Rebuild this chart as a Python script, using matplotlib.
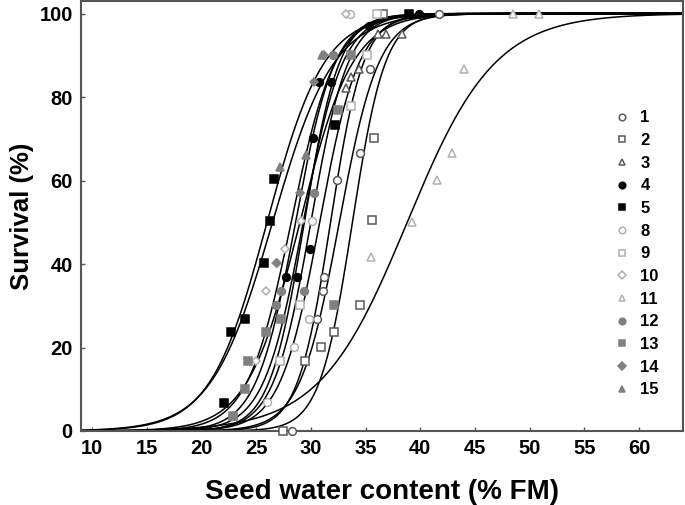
import numpy as np
import matplotlib
matplotlib.use("Agg")
import matplotlib.pyplot as plt
from matplotlib.lines import Line2D

plt.rcParams['font.family'] = ['Liberation Sans', 'DejaVu Sans']
plt.rcParams['font.weight'] = 'bold'

# ---- data ----
labels = ['1', '2', '3', '4', '5', '8', '9', '10', '11', '12', '13', '14', '15']

x1 = [28.3, 30.6, 31.1, 31.2, 32.4, 34.5, 35.4, 41.7]
y1 = [0, 26.8, 33.6, 36.9, 60.2, 66.7, 86.7, 100]
x2 = [27.5, 29.5, 30.9, 32.1, 34.5, 35.6, 35.8, 36.6]
y2 = [0, 16.8, 20.1, 23.6, 30.2, 50.6, 70.1, 100]
x3 = [33.2, 33.7, 34.4, 36.1, 36.9, 38.3]
y3 = [82.2, 84.8, 86.7, 95, 95, 95]
x4 = [27.7, 28.7, 29.9, 30.2, 30.7, 31.8, 35.3, 39.9]
y4 = [36.9, 36.9, 43.6, 70.2, 83.6, 83.6, 97, 100]
x5 = [22.1, 22.7, 24.0, 25.7, 26.3, 26.6, 32.2, 39.0]
y5 = [6.8, 23.6, 26.8, 40.2, 50.4, 60.4, 73.4, 100]
x8 = [26.0, 28.5, 29.8, 30.1, 33.6]
y8 = [7, 20.1, 26.8, 50.4, 100]
x9 = [27.2, 29.0, 33.7, 35.1, 36.0]
y9 = [16.8, 30.2, 77.8, 90, 100]
x10 = [25.0, 25.9, 26.8, 27.6, 29.1, 33.2]
y10 = [16.8, 33.6, 40.2, 43.6, 50.4, 100]
x11 = [35.5, 39.2, 41.5, 42.9, 44.0, 48.5, 50.8]
y11 = [41.7, 50.1, 60.1, 66.6, 86.7, 100, 100]
x12 = [26.8, 27.3, 29.4, 30.3, 32.0]
y12 = [30.2, 33.6, 33.6, 57.1, 90]
x13 = [22.9, 24.0, 24.3, 25.9, 27.3, 32.1, 32.5, 33.7]
y13 = [3.6, 10, 16.8, 23.6, 26.8, 30.2, 77, 90]
x14 = [26.9, 29.0, 30.3, 31.2]
y14 = [40.2, 57.1, 83.6, 90]
x15 = [22.9, 27.2, 29.6, 31.0]
y15 = [3.6, 63.2, 66.2, 90]

# fitted logistic curve parameters (x at 50 % survival, slope scale)
x50 = [32.6, 33.8, 31.8, 29.4, 26.0, 30.0, 30.8, 28.2, 38.8, 29.3, 29.0, 28.6, 26.5]
scale = [1.8, 1.5, 1.5, 1.6, 2.6, 1.7, 1.8, 2.0, 4.0, 1.8, 2.4, 1.8, 2.8]

xs = [x1, x2, x3, x4, x5, x8, x9, x10, x11, x12, x13, x14, x15]
ys = [y1, y2, y3, y4, y5, y8, y9, y10, y11, y12, y13, y14, y15]

# ---- styles ----
dark = '#595959'
light = '#b0b0b0'
mid = '#808080'
styles = [
    dict(marker='o', mfc='white', mec=dark),
    dict(marker='s', mfc='white', mec=dark),
    dict(marker='^', mfc='white', mec=dark),
    dict(marker='o', mfc='black', mec='black'),
    dict(marker='s', mfc='black', mec='black'),
    dict(marker='o', mfc='white', mec=light),
    dict(marker='s', mfc='white', mec=light),
    dict(marker='D', mfc='white', mec=light),
    dict(marker='^', mfc='white', mec=light),
    dict(marker='o', mfc=mid, mec=mid),
    dict(marker='s', mfc=mid, mec=mid),
    dict(marker='D', mfc=mid, mec=mid),
    dict(marker='^', mfc=mid, mec=mid),
]

fig = plt.figure(figsize=(6.85, 5.05), dpi=100)
ax = fig.add_axes([81 / 685, 74 / 505, 602 / 685, 430 / 505])

xx = np.linspace(9, 64, 600)
for m, s in zip(x50, scale):
    ax.plot(xx, 100.0 / (1.0 + np.exp(-(xx - m) / s)), color='black', lw=1.1, zorder=2)

handles = []
for x, y, st in zip(xs, ys, styles):
    ms = 5.6 if st['marker'] != 'D' else 4.3
    ax.plot(x, y, ls='none', ms=ms, mew=1.1, zorder=3, clip_on=False, **st)
    handles.append(Line2D([], [], ls='none', ms=ms * 0.85, mew=1.1, **st))

ax.set_xlim(9, 64)
ax.set_ylim(0, 103)
ax.set_xticks(np.arange(10, 61, 5))
ax.set_yticks(np.arange(0, 101, 20))
ax.tick_params(direction='in', length=3, width=1, colors='#555555', labelcolor='black',
               labelsize=14.5, pad=6)
for lab in ax.get_xticklabels() + ax.get_yticklabels():
    lab.set_fontweight('bold')
for sp in ax.spines.values():
    sp.set_color('#555555')
    sp.set_linewidth(1.5)

ax.set_xlabel('Seed water content (% FM)', fontsize=20, fontweight='bold', labelpad=15)
ax.set_ylabel('Survival (%)', fontsize=18.5, fontweight='bold', labelpad=4)

leg = ax.legend(handles, labels, loc='upper left', bbox_to_anchor=(0.871, 0.765),
                frameon=False, fontsize=12, handlelength=1.0, handletextpad=0.6,
                labelspacing=0.46, borderpad=0)
for t in leg.get_texts():
    t.set_fontweight('bold')

fig.savefig('out.png', dpi=100)
